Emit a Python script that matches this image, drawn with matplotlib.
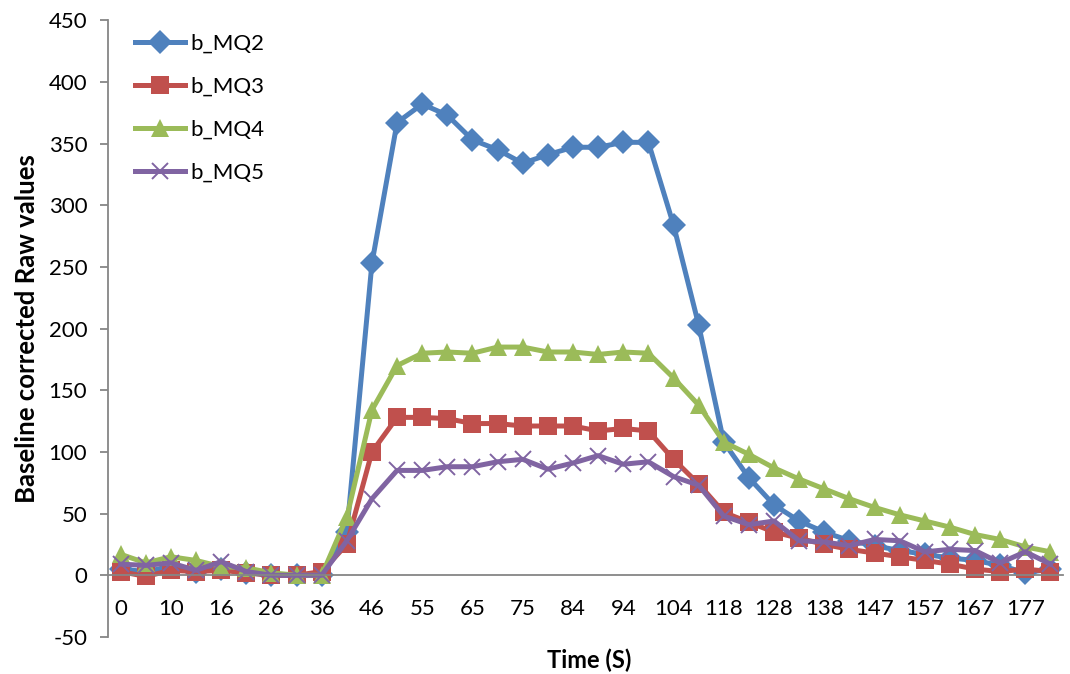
import numpy as np
import matplotlib
matplotlib.use("Agg")
import matplotlib.pyplot as plt

plt.rcParams['font.family'] = ['Lato', 'DejaVu Sans']
plt.rcParams['axes.unicode_minus'] = False

###################
    #DATA#
###################

# tick labels on the category axis (every second category is labelled)
tick_labels = ["0", "10", "16", "26", "36", "46", "55", "65", "75", "84",
               "94", "104", "118", "128", "138", "147", "157", "167", "177"]

b_MQ2 = [5, 3, 7, 3, 5, 2, 0, 0, 0, 35, 253, 367, 382, 373, 353, 345, 334, 341, 347,
         347, 351, 351, 284, 203, 108, 79, 57, 44, 35, 28, 24, 20, 17, 14, 12, 8, 2, 5]
b_MQ3 = [3, -1, 4, 3, 4, 2, 0, 0, 3, 25, 100, 128, 128, 127, 123, 123, 121, 121, 121,
         117, 119, 117, 94, 74, 51, 43, 35, 30, 25, 21, 18, 15, 12, 9, 5, 3, 5, 3]
b_MQ4 = [17, 10, 15, 12, 7, 6, 2, 0, 0, 47, 134, 170, 180, 181, 180, 185, 185, 181, 181,
         179, 181, 180, 160, 138, 108, 98, 87, 78, 70, 62, 55, 49, 44, 39, 33, 29, 23, 19]
b_MQ5 = [9, 8, 10, 4, 11, 3, 0, 0, 0, 28, 62, 85, 85, 88, 88, 92, 94, 86, 91,
         97, 90, 92, 80, 73, 48, 41, 44, 28, 27, 24, 29, 28, 19, 21, 20, 10, 19, 9]

series = [("b_MQ2", b_MQ2, "#4F81BD", "D", 12.5),
          ("b_MQ3", b_MQ3, "#C0504D", "s", 12.5),
          ("b_MQ4", b_MQ4, "#9BBB59", "^", 13),
          ("b_MQ5", b_MQ5, "#8064A2", "x", 12)]

#################
    #PLOTS#
#################

fig = plt.figure(figsize=(10.7, 6.74), dpi=100)
ax = fig.add_axes([0.101, 0.055, 0.8925, 0.915])

x = np.arange(len(b_MQ2))
for name, vals, col, mk, ms in series:
    if mk == "x":
        ax.plot(x, vals, color=col, lw=3.6, marker=mk, ms=ms, mew=1.4, label=name)
    else:
        ax.plot(x, vals, color=col, lw=3.6, marker=mk, ms=ms, mew=0, label=name)

ax.set_xlim(-0.5, len(x) - 0.5)
ax.set_ylim(-50, 450)
ax.set_yticks(np.arange(-50, 451, 50))
ax.set_xticks(x[::2])
ax.set_xticklabels(tick_labels)

gray = "#868686"
for s in ["top", "right"]:
    ax.spines[s].set_visible(False)
ax.spines["left"].set_color(gray)
ax.spines["left"].set_linewidth(1.3)
ax.spines["bottom"].set_color(gray)
ax.spines["bottom"].set_linewidth(1.3)
ax.spines["bottom"].set_position(("data", 0))

ax.tick_params(axis="y", direction="out", length=6, width=1.3, color=gray,
               labelsize=16, pad=9)
ax.tick_params(axis="x", length=0, labelsize=16, pad=17)

ax.set_ylabel("Baseline corrected Raw values", fontsize=18.5, fontweight="bold",
              labelpad=7)
fig.text(0.551, 0.021, "Time (S)", fontsize=17, fontweight="bold",
         ha="center", va="center")

ax.legend(loc="upper left", bbox_to_anchor=(0.019, 0.993), borderaxespad=0,
          frameon=False, fontsize=16, handlelength=2.25, labelspacing=1.04,
          handletextpad=0.25)

plt.savefig("out.png", dpi=100)
